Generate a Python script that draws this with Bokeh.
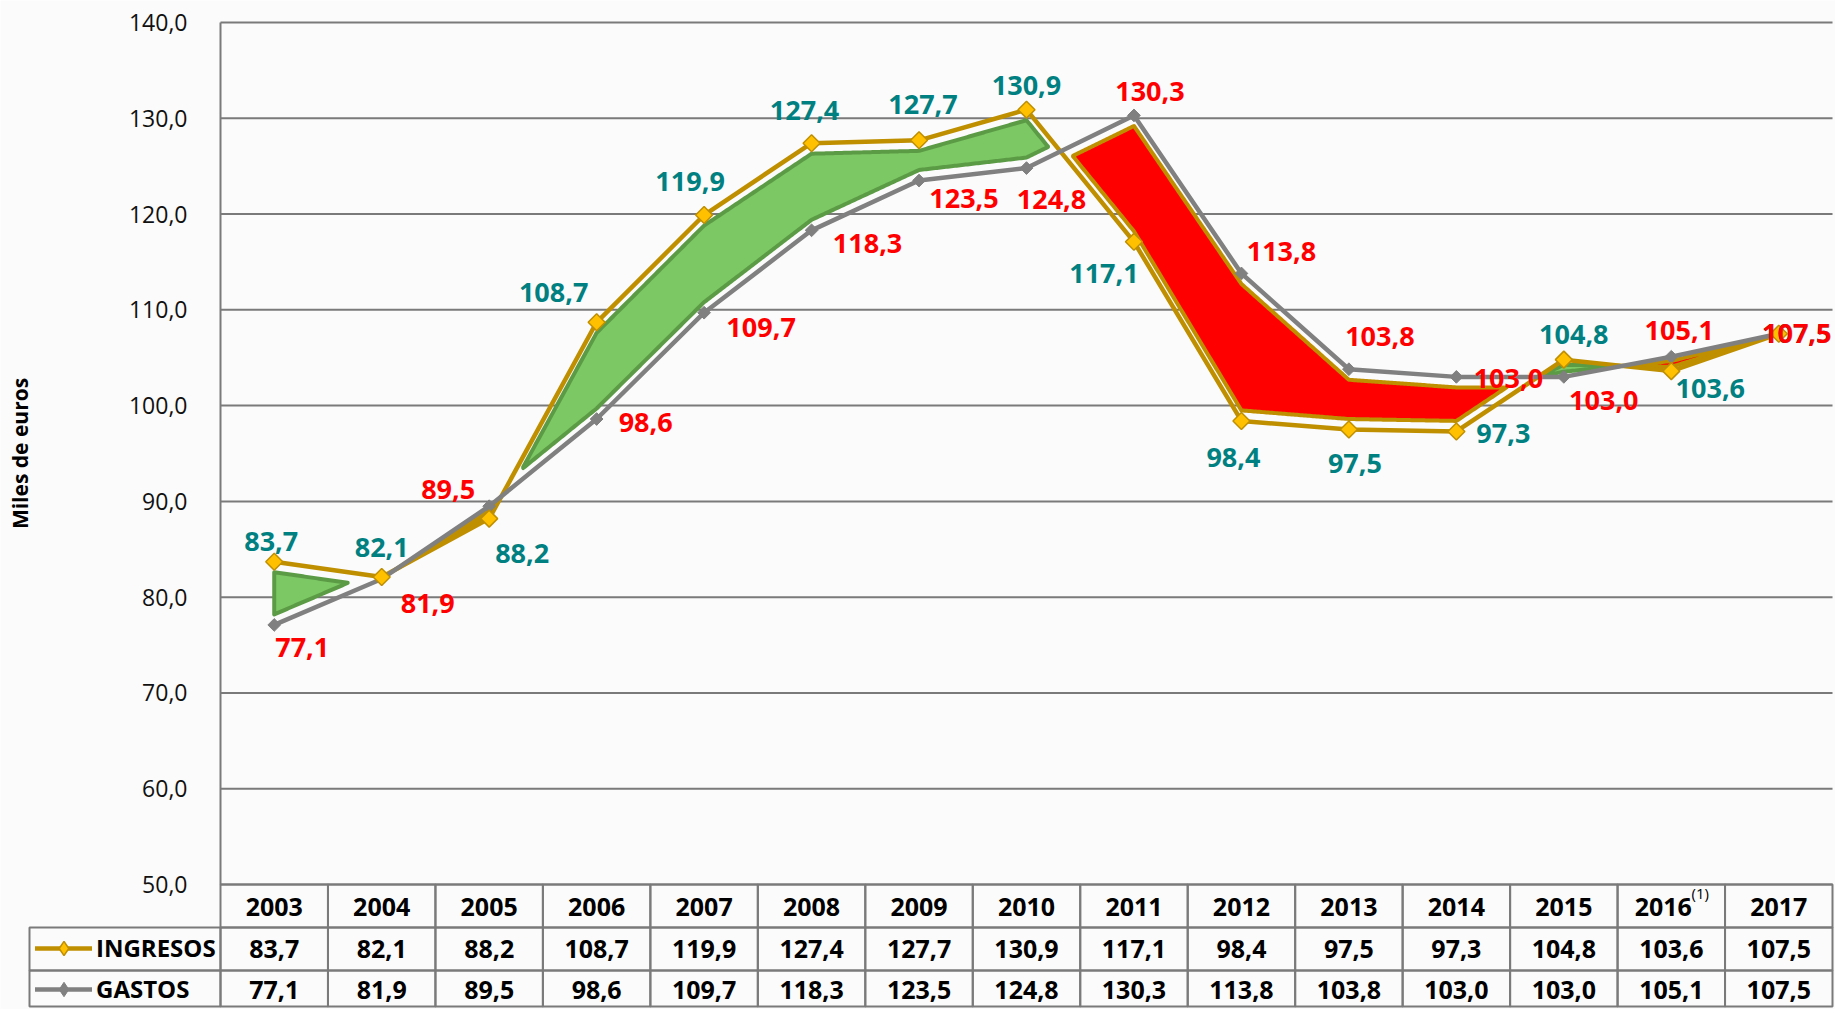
import numpy as np
from bokeh.plotting import figure
from bokeh.models import (Range1d, FixedTicker, CustomJSTickFormatter, ColumnDataSource,
                          Legend, LegendItem)
from bokeh.core.properties import value
from bokeh.embed import file_html
from bokeh.resources import INLINE

# ---------------- data ----------------
years = [2003, 2004, 2005, 2006, 2007, 2008, 2009, 2010, 2011, 2012, 2013, 2014, 2015, 2016, 2017]
year_labels = ["2003", "2004", "2005", "2006", "2007", "2008", "2009", "2010", "2011", "2012",
               "2013", "2014", "2015", "2016", "2017"]
ingresos = [83.7, 82.1, 88.2, 108.7, 119.9, 127.4, 127.7, 130.9, 117.1, 98.4, 97.5, 97.3, 104.8, 103.6, 107.5]
gastos = [77.1, 81.9, 89.5, 98.6, 109.7, 118.3, 123.5, 124.8, 130.3, 113.8, 103.8, 103.0, 103.0, 105.1, 107.5]
y_ticks = [50, 60, 70, 80, 90, 100, 110, 120, 130, 140]
footnote = "(1)"
footnote_year = 2016

# label offsets (screen px) -- styling
ing_dx = [-3, 0, 33, -43, -14, -7, 4, 0, -30, -8, 6, 47, 10, 39, 18]
ing_dy = [-20, -30, 35, -30, -34, -33, -36, -24, 32, 37, 34, 2, -25, 17, 0]
gas_dx = [28, 46, -41, 49, 57, 56, 45, 25, 16, 40, 31, 52, 40, 8, 18]
gas_dy = [23, 25, -17, 3, 15, 13, 18, 31, -24, -22, -33, 2, 24, -26, 0]

FONT = "Open Sans"
W, H = 1835, 1009
LEFT, RIGHT, TOP, BOTTOM = 220, 1832, 22, 884     # chart area inside the canvas
GRID = "#7a7a7a"
GOLD = "#BF8F00"
GOLD_FILL = "#FFC000"
GREY = "#808080"
TEAL = "#008080"
RED = "#FF0000"
BG = "#fbfbfb"

fmt = lambda v: f"{v:.1f}".replace(".", ",")

ppx = (RIGHT - LEFT) / len(years)
ppy = (BOTTOM - TOP) / 90.0
x_lo = years[0] - 0.5
x_hi = years[-1] + 0.5

p = figure(width=W, height=H, output_backend="svg", toolbar_location=None,
           x_range=Range1d(x_lo - LEFT / ppx, x_lo + (W - LEFT) / ppx),
           y_range=Range1d(50 - (H - BOTTOM) / ppy, 140 + TOP / ppy),
           min_border_left=0, min_border_right=0, min_border_top=0, min_border_bottom=0)
p.background_fill_color = BG
p.border_fill_color = BG
p.outline_line_color = None
p.xaxis.visible = False
p.xgrid.visible = False
p.ygrid.visible = False

ax = p.yaxis[0]
ax.fixed_location = x_lo
ax.bounds = (50, 140)
ax.ticker = FixedTicker(ticks=y_ticks)
ax.formatter = CustomJSTickFormatter(code="return tick.toFixed(1).replace('.', ',');")
ax.major_label_text_font = FONT
ax.major_label_text_font_size = "23px"
ax.major_label_text_color = "#111111"
ax.major_label_standoff = 27
ax.major_tick_line_color = None
ax.minor_tick_line_color = None
ax.axis_line_color = GRID
ax.axis_line_width = 2
ax.axis_label = "Miles de euros"
ax.axis_label_text_font = FONT
ax.axis_label_text_font_style = "bold"
ax.axis_label_text_font_size = "21px"
ax.axis_label_text_color = "#000000"
ax.axis_label_standoff = 92

# horizontal grid lines over the chart area only
p.segment(x0=[x_lo] * len(y_ticks), x1=[x_hi] * len(y_ticks), y0=y_ticks, y1=y_ticks,
          line_color=GRID, line_width=2)

# ---------------- surplus / deficit bands (inset from both lines) ----------------
def bands(xs, a, b, G=1.1, small=4.0, c=0.3, steps=60):
    pts = []
    for i in range(len(xs) - 1):
        d0 = a[i] - b[i]
        d1 = a[i + 1] - b[i + 1]
        ts = list(np.linspace(0, 1, steps, endpoint=False))
        if d0 * d1 < 0:
            ts.append(d0 / (d0 - d1))
        ts.sort()
        for t in ts:
            pts.append((xs[i] + t, a[i] + (a[i + 1] - a[i]) * t, b[i] + (b[i + 1] - b[i]) * t))
    pts.append((xs[-1], a[-1], b[-1]))
    groups = []
    cur, sign = [], 0
    for x, ya, yb in pts:
        d = ya - yb
        s = 0 if abs(d) < 1e-9 else (1 if d > 0 else -1)
        if s == 0:
            cur.append((x, ya, yb))
            if sign != 0:
                groups.append((sign, cur))
            cur, sign = [(x, ya, yb)], 0
            continue
        if sign == 0:
            sign = s
        if s != sign:
            groups.append((sign, cur))
            cur, sign = [], s
        cur.append((x, ya, yb))
    if sign != 0 and len(cur) > 1:
        groups.append((sign, cur))
    out = {1: ([], []), -1: ([], [])}
    for sign, g in groups:
        maxd = max(abs(ya - yb) for _, ya, yb in g)
        top, bot, gx = [], [], []
        for x, ya, yb in g:
            hi, lo = max(ya, yb), min(ya, yb)
            if maxd > small:
                if hi - lo <= 2 * G:
                    continue
                gap = G
            else:
                gap = c * (hi - lo)
            gx.append(x)
            top.append(hi - gap)
            bot.append(lo + gap)
        if len(gx) < 2:
            continue
        out[sign][0].append(gx + gx[::-1])
        out[sign][1].append(top + bot[::-1])
    return out

bd = bands(years, ingresos, gastos)
p.patches(bd[1][0], bd[1][1], fill_color="#7CC864", line_color="#5C9B45", line_width=4, line_join="round")
p.patches(bd[-1][0], bd[-1][1], fill_color=RED, line_color=GOLD, line_width=4, line_join="round")

# ---------------- lines ----------------
src = ColumnDataSource(dict(x=years, ing=ingresos, gas=gastos,
                            ing_t=[fmt(v) for v in ingresos], gas_t=[fmt(v) for v in gastos],
                            idx=ing_dx, idy=ing_dy, gdx=gas_dx, gdy=gas_dy))
l_ing = p.line("x", "ing", source=src, line_color=GOLD, line_width=4.5, line_cap="round")
l_gas = p.line("x", "gas", source=src, line_color=GREY, line_width=4.5, line_cap="round")
p.scatter("x", "gas", source=src, marker="square", angle=np.pi / 4, size=9,
          fill_color=GREY, line_color=GREY, line_width=1)
p.scatter("x", "ing", source=src, marker="square", angle=np.pi / 4, size=12,
          fill_color=GOLD_FILL, line_color=GOLD, line_width=1.5)
# diamond glyphs used for the legend keys only (no data points of their own)
k_ing = p.scatter([np.nan], [np.nan], marker="diamond", fill_color=GOLD_FILL, line_color=GOLD, line_width=1.5)
k_gas = p.scatter([np.nan], [np.nan], marker="diamond", fill_color=GREY, line_color=GREY, line_width=1)

p.text("x", "ing", text="ing_t", source=src, x_offset="idx", y_offset="idy",
       text_font=value(FONT), text_font_style="bold", text_font_size=value("27px"),
       text_color=TEAL, text_align="center", text_baseline="middle")
p.text("x", "gas", text="gas_t", source=src, x_offset="gdx", y_offset="gdy",
       text_font=value(FONT), text_font_style="bold", text_font_size=value("27px"),
       text_color=RED, text_align="center", text_baseline="middle")

# ---------------- data table below the chart ----------------
ydat = lambda px: 50 - px / ppy          # px below the chart bottom -> data y
row_edges = [0, 43, 86, 122]
row_mid = [22, 64, 105]
legend_left = x_lo - 191 / ppx

cl, cr, ct, cb = [], [], [], []
for yr in years:
    for r in range(3):
        cl.append(yr - 0.5); cr.append(yr + 0.5)
        ct.append(ydat(row_edges[r])); cb.append(ydat(row_edges[r + 1]))
for r in (1, 2):
    cl.append(legend_left); cr.append(x_lo)
    ct.append(ydat(row_edges[r])); cb.append(ydat(row_edges[r + 1]))
p.quad(left=cl, right=cr, top=ct, bottom=cb, fill_color=None, line_color=GRID, line_width=2)

tsrc = ColumnDataSource(dict(
    x=years * 3,
    y=[ydat(row_mid[0])] * len(years) + [ydat(row_mid[1])] * len(years) + [ydat(row_mid[2])] * len(years),
    t=year_labels + [fmt(v) for v in ingresos] + [fmt(v) for v in gastos],
    dx=[-8 if yr == footnote_year else 0 for yr in years] + [0] * (2 * len(years)),
))
p.text("x", "y", text="t", x_offset="dx", source=tsrc, text_font=value(FONT), text_font_style="bold",
       text_font_size=value("25px"), text_color="#000000", text_align="center", text_baseline="middle")
p.text(x=[footnote_year], y=[ydat(row_mid[0])], text=[footnote], x_offset=29, y_offset=-14,
       text_font=value(FONT), text_font_size=value("15px"), text_color="#000000",
       text_align="center", text_baseline="middle")

legend = Legend(items=[LegendItem(label="INGRESOS", renderers=[l_ing, k_ing]),
                       LegendItem(label="GASTOS", renderers=[l_gas, k_gas])],
                location=(35, 0), orientation="vertical",
                glyph_width=57, glyph_height=36, label_height=41, spacing=0, padding=0,
                margin=0, label_standoff=4,
                label_text_font=FONT, label_text_font_style="bold", label_text_font_size="24px",
                label_text_color="#000000", background_fill_alpha=0, border_line_color=None)
p.add_layout(legend)

open("out.html", "w").write(file_html(p, INLINE))
